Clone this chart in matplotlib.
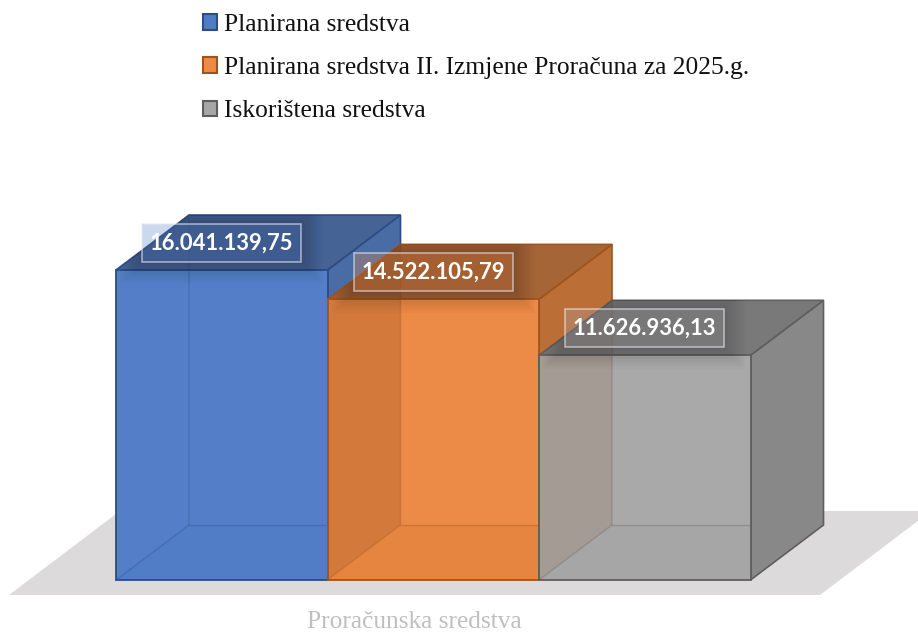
import matplotlib
matplotlib.use("Agg")
import matplotlib.pyplot as plt
from matplotlib.patches import Polygon, Rectangle

# data
series_names = ["Planirana sredstva",
                "Planirana sredstva II. Izmjene Proračuna za 2025.g.",
                "Iskorištena sredstva"]
values = [16041139.75, 14522105.79, 11626936.13]
value_labels = ["16.041.139,75", "14.522.105,79", "11.626.936,13"]
category = "Proračunska sredstva"

# colours per bar
front_col = ["#547fc8", "#ec8a47", "#a9a9a9"]
left_col = ["#547fc8", "#d3793b", "#a39b94"]
floor_col = ["#517cc6", "#e6853f", "#a6a6a6"]
side_col = ["#4a6ca5", "#bc6e37", "#888888"]
top_col = ["#3e5d92", "#a35f2e", "#747474"]
edge_col = ["#2b4c84", "#a0541c", "#5e5e5e"]
legend_col = ["#4f7cc6", "#ee8a45", "#a6a6a6"]

W, H = 918, 634
px_bar = 211.5                      # pixels per bar slot
px_val = 310 / values[0]            # pixels per unit of value
x0_px, y0_px = 116, 580             # where the first bar meets the floor

fig = plt.figure(figsize=(W / 100, H / 100), dpi=100)
ax = fig.add_axes([0, 0, 1, 1])
ax.set_xlim(-x0_px / px_bar, (W - x0_px) / px_bar)
ax.set_ylim(-(H - y0_px) / px_val, y0_px / px_val)
ax.axis("off")

# depth of the 3d boxes, in axis units
dx = 73 / px_bar
dy = 55 / px_val

# floor
ax.add_patch(Polygon([(-107 / px_bar, -15 / px_val), (704 / px_bar, -15 / px_val),
                      (815 / px_bar, 69 / px_val), (4 / px_bar, 69 / px_val)],
                     fc="#dcdadb", ec="none", zorder=1))


def box(i, v):
    l, r = i, i + 1
    ec = edge_col[i]
    z = 2 + i * 10
    # right and top stay visible behind the next box
    ax.add_patch(Polygon([(r, 0), (r + dx, dy), (r + dx, v + dy), (r, v)],
                         fc=side_col[i], ec=ec, lw=1.2, zorder=z))
    ax.add_patch(Polygon([(l, v), (r, v), (r + dx, v + dy), (l + dx, v + dy)],
                         fc=top_col[i], ec=ec, lw=1.2, alpha=0.96, zorder=z + 1))
    # front with the inner faces showing through
    ax.add_patch(Polygon([(l, 0), (r, 0), (r, v), (l, v)],
                         fc=front_col[i], ec="none", zorder=z + 2))
    ax.add_patch(Polygon([(l, 0), (l + dx, dy), (l + dx, v), (l, v)],
                         fc=left_col[i], ec="none", zorder=z + 3))
    ax.add_patch(Polygon([(l, 0), (r, 0), (r, dy), (l + dx, dy)],
                         fc=floor_col[i], ec="none", zorder=z + 3))
    # inner edges
    ax.plot([l, l + dx, l + dx], [0, dy, v + dy], color=ec, lw=1.0, alpha=0.3, zorder=z + 4)
    ax.plot([l + dx, r], [dy, dy], color=ec, lw=1.0, alpha=0.3, zorder=z + 4)
    ax.add_patch(Polygon([(l, 0), (r, 0), (r, v), (l, v)],
                         fc="none", ec=ec, lw=1.3, zorder=z + 5))


for i, v in enumerate(values):
    box(i, v)

# value labels with a see-through frame and a soft shadow
for i, v in enumerate(values):
    cx = i + 0.5
    cy = v + 27 / px_val
    hw, hh = 79.5 / px_bar, 19 / px_val
    outline = Polygon([(i, 0), (i + 1, 0), (i + 1 + dx, dy), (i + 1 + dx, v + dy),
                       (i + dx, v + dy), (i, v)], transform=ax.transData)
    for grow in range(2, 24, 2):
        sh = Rectangle((cx - hw - grow / px_bar, cy - hh - grow / px_val),
                       2 * hw + 2 * grow / px_bar, 2 * hh + 2 * grow / px_val,
                       fc="black", ec="none", alpha=0.014, zorder=50)
        ax.add_patch(sh)
        sh.set_clip_path(outline)
    ax.add_patch(Rectangle((cx - hw, cy - hh), 2 * hw, 2 * hh,
                           fc=front_col[i], ec="none", alpha=0.3, zorder=51))
    ax.add_patch(Rectangle((cx - hw, cy - hh), 2 * hw, 2 * hh,
                           fc="none", ec="#e8ebf2", lw=1.2, alpha=0.6, zorder=52))
    ax.text(cx, cy, value_labels[i], color="white", fontsize=15.8, fontweight="bold",
            family="Lato", ha="center", va="center", zorder=53)

# axis label
ax.text((414 - x0_px) / px_bar, -48.5 / px_val, category, color="#bfbfbf",
        fontsize=18.3, family="Liberation Serif", ha="center", va="baseline", zorder=60)

# legend
handles = [Rectangle((0, 0), 1, 1, fc=legend_col[i], ec=edge_col[i], lw=1.5) for i in range(3)]
fig.legend(handles, series_names, loc="upper left", bbox_to_anchor=(203 / W, 1 - 14 / H),
           frameon=False, prop={"family": "Liberation Serif", "size": 18.4},
           handlelength=0.56, handleheight=0.56, handletextpad=0.26, labelspacing=0.83,
           borderpad=0, borderaxespad=0, labelcolor="#111111")

fig.savefig("out.png", dpi=100)
